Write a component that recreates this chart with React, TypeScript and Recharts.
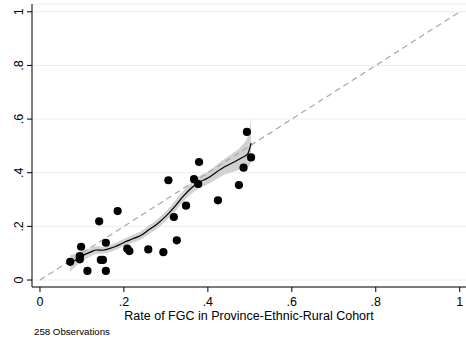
import React from 'react';
import {
  ComposedChart,
  Scatter,
  Line,
  Area,
  XAxis,
  YAxis,
  CartesianGrid,
  ReferenceLine,
} from 'recharts';

// cohort-level points (x = cohort FGC rate, y = individual rate)
const pointX = [
  0.072, 0.095, 0.095, 0.098, 0.113, 0.141, 0.145, 0.15, 0.157, 0.157,
  0.185, 0.208, 0.213, 0.258, 0.294, 0.306, 0.319, 0.326, 0.348, 0.367,
  0.377, 0.379, 0.424, 0.474, 0.485, 0.493, 0.503,
];
const pointY = [
  0.068, 0.089, 0.077, 0.124, 0.034, 0.219, 0.075, 0.075, 0.139, 0.034,
  0.257, 0.117, 0.108, 0.114, 0.104, 0.372, 0.235, 0.148, 0.277, 0.376,
  0.358, 0.44, 0.297, 0.354, 0.419, 0.552, 0.457,
];

// local polynomial fit and its confidence band
const fitX = [
  0.072, 0.085, 0.1, 0.12, 0.135, 0.15, 0.165, 0.18, 0.2, 0.22, 0.24, 0.26,
  0.28, 0.3, 0.32, 0.34, 0.36, 0.38, 0.4, 0.42, 0.44, 0.46, 0.48, 0.495, 0.503,
];
const fitY = [
  0.062, 0.075, 0.09, 0.104, 0.112, 0.111, 0.117, 0.125, 0.14, 0.153, 0.166, 0.188,
  0.21, 0.238, 0.272, 0.31, 0.342, 0.365, 0.38, 0.402, 0.422, 0.438, 0.455, 0.47, 0.51,
];
const fitLo = [
  0.032, 0.05, 0.07, 0.088, 0.098, 0.099, 0.104, 0.112, 0.127, 0.139, 0.151, 0.172,
  0.193, 0.22, 0.252, 0.29, 0.321, 0.343, 0.357, 0.376, 0.393, 0.404, 0.414, 0.42, 0.44,
];
const fitHi = [
  0.093, 0.098, 0.108, 0.118, 0.126, 0.124, 0.13, 0.138, 0.153, 0.167, 0.181, 0.204,
  0.227, 0.256, 0.292, 0.33, 0.363, 0.388, 0.404, 0.428, 0.452, 0.474, 0.5, 0.535, 0.6,
];

const axisTicks = [0, 0.2, 0.4, 0.6, 0.8, 1];

const points = pointX.map((x, i) => ({ x, y: pointY[i] }));
const fit = fitX.map((x, i) => ({ x, y: fitY[i], band: [fitLo[i], fitHi[i]] }));

const FONT = '"Liberation Sans", Arial, Helvetica, sans-serif';

const fmt = (v: number) => (v === 0 ? '0' : v === 1 ? '1' : String(+v.toFixed(1)).replace('0.', '.'));

const XTick = (props: any) => {
  const { x, y, payload } = props;
  return (
    <text x={x} y={y} dy="0.92em" textAnchor="middle" fontSize={12.5} fill="#000" fontFamily={FONT}>
      {fmt(payload.value)}
    </text>
  );
};

const YTick = (props: any) => {
  const { x, y, payload } = props;
  const cx = x - 6.8;
  return (
    <text
      x={cx}
      y={y}
      dy="0.35em"
      textAnchor="middle"
      fontSize={12.5}
      fill="#000"
      fontFamily={FONT}
      transform={`rotate(-90, ${cx}, ${y})`}
    >
      {fmt(payload.value)}
    </text>
  );
};

const Dot = (props: any) => <circle cx={props.cx} cy={props.cy} r={4.1} fill="#000" />;

export default function App() {
  return (
    <div style={{ position: 'absolute', left: 0, top: 0, width: 466, height: 341, background: '#fff', fontFamily: FONT }}>
      <ComposedChart
        width={466}
        height={341}
        data={fit}
        margin={{ top: 4, right: 0, left: 0, bottom: 0 }}
      >
        <CartesianGrid vertical={false} stroke="#e6eff1" strokeWidth={1} />
        <XAxis
          type="number"
          dataKey="x"
          domain={[-0.019, 1.015]}
          ticks={axisTicks}
          allowDataOverflow
          height={54}
          tickSize={5}
          tickMargin={2}
          stroke="#000"
          tick={<XTick />}
          label={{
            value: 'Rate of FGC in Province-Ethnic-Rural Cohort',
            position: 'insideBottom',
            offset: 21.5,
            fontSize: 12.5,
            fill: '#000',
            fontFamily: FONT,
          }}
        />
        <YAxis
          type="number"
          domain={[-0.026, 1.029]}
          ticks={axisTicks}
          allowDataOverflow
          width={32}
          tickSize={5}
          tickMargin={2}
          stroke="#000"
          tick={<YTick />}
        />
        <Area
          type="monotone"
          dataKey="band"
          stroke="none"
          fill="#c9c9c9"
          fillOpacity={0.85}
          isAnimationActive={false}
        />
        <ReferenceLine
          segment={[{ x: 0, y: 0 }, { x: 1, y: 1 }]}
          stroke="#a8a8a8"
          strokeWidth={1.2}
          strokeDasharray="6 4"
          ifOverflow="visible"
        />
        <Line
          type="monotone"
          dataKey="y"
          stroke="#000"
          strokeWidth={1.2}
          dot={false}
          activeDot={false}
          isAnimationActive={false}
        />
        <Scatter data={points} dataKey="y" shape={<Dot />} isAnimationActive={false} />
      </ComposedChart>
      <div style={{ position: 'absolute', left: 34, top: 326, fontSize: 9.7, lineHeight: '12px', color: '#000' }}>
        258 Observations
      </div>
    </div>
  );
}
